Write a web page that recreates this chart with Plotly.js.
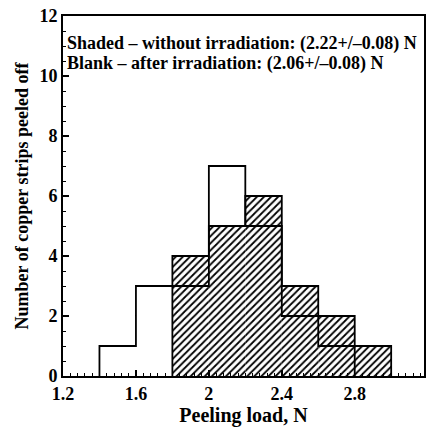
<!DOCTYPE html>
<html>
<head>
<meta charset="utf-8">
<script src="https://cdn.plot.ly/plotly-3.0.1.min.js"></script>
<style>html,body{margin:0;padding:0;background:#fff;font-family:'Liberation Serif',serif;}</style>
</head>
<body>
<div id="chart"></div>
<script>
// Bin edges of the peeling-load histogram (N)
const binEdges = [1.4, 1.6, 1.8, 2.0, 2.2, 2.4, 2.6, 2.8, 3.0];
// Shaded – without irradiation
const shadedCounts = [0, 0, 4, 5, 6, 3, 2, 1];
// Blank – after irradiation
const blankCounts = [1, 3, 3, 7, 5, 2, 1, 0];
const xTickVals = [1.2, 1.6, 2.0, 2.4, 2.8];
const xTickText = ['1.2', '1.6', '2', '2.4', '2.8'];
const yTickVals = [0, 2, 4, 6, 8, 10, 12];
const legendLines = [
  'Shaded \u2013 without irradiation: (2.22+/\u20130.08) N',
  'Blank \u2013 after irradiation: (2.06+/\u20130.08) N'
];

const centers = binEdges.slice(0, -1).map((e, i) => (e + binEdges[i + 1]) / 2);
const widths = binEdges.slice(0, -1).map((e, i) => binEdges[i + 1] - e);

function stepOutline(counts) {
  let a = counts.findIndex(c => c > 0);
  let b = counts.length - 1;
  while (b >= 0 && counts[b] === 0) b--;
  const xs = [binEdges[a]], ys = [0];
  for (let i = a; i <= b; i++) { xs.push(binEdges[i]); ys.push(counts[i]); }
  xs.push(binEdges[b + 1]); ys.push(0);
  return {x: xs, y: ys};
}

const FONT = 'Liberation Serif';
const sh = stepOutline(shadedCounts);
const bl = stepOutline(blankCounts);

const traces = [
  {
    type: 'bar', x: centers, y: shadedCounts, width: widths,
    marker: {color: 'white', line: {width: 0},
      pattern: {shape: '/', fgcolor: 'black', bgcolor: 'white', size: 5, solidity: 0.36, fillmode: 'replace'}},
    hoverinfo: 'skip', showlegend: false
  },
  {
    type: 'scatter', mode: 'lines', x: sh.x, y: sh.y,
    line: {shape: 'hv', color: 'black', width: 1.8}, showlegend: false, hoverinfo: 'skip'
  },
  {
    type: 'scatter', mode: 'lines', x: bl.x, y: bl.y,
    line: {shape: 'hv', color: 'black', width: 1.8}, showlegend: false, hoverinfo: 'skip'
  }
];

const tickF = {family: FONT, size: 18, weight: 'bold', color: 'black'};
const layout = {
  width: 428, height: 429,
  margin: {l: 63, r: 4, t: 16, b: 53},
  paper_bgcolor: 'white', plot_bgcolor: 'white',
  barmode: 'overlay',
  font: {family: FONT, color: 'black'},
  xaxis: {
    range: [1.2, 3.18], tickvals: xTickVals, ticktext: xTickText,
    ticks: 'inside', ticklen: 6, tickwidth: 1.5, tickcolor: 'black',
    minor: {dtick: 0.04, ticks: 'inside', ticklen: 3, tickwidth: 1, tickcolor: 'black'},
    showline: true, linecolor: 'black', linewidth: 2, mirror: true,
    showgrid: false, zeroline: false,
    tickfont: tickF,
    title: {text: 'Peeling load, N', font: {family: FONT, size: 20, weight: 'bold', color: 'black'}, standoff: 4}
  },
  yaxis: {
    range: [0, 12], tickvals: yTickVals,
    ticks: 'inside', ticklen: 6, tickwidth: 1.5, tickcolor: 'black',
    minor: {dtick: 0.5, ticks: 'inside', ticklen: 3, tickwidth: 1, tickcolor: 'black'},
    showline: true, linecolor: 'black', linewidth: 2, mirror: true,
    showgrid: false, zeroline: false,
    tickfont: tickF,
    title: {text: 'Number of copper strips peeled off', font: {family: FONT, size: 18, weight: 'bold', color: 'black'}, standoff: 6}
  },
  annotations: legendLines.map((t, i) => ({
    text: t, xref: 'paper', yref: 'paper', x: 0.005, y: 0.924 - i * 0.055,
    xanchor: 'left', yanchor: 'middle', showarrow: false,
    font: {family: FONT, size: 18, weight: 'bold', color: 'black'}
  }))
};

function draw() {
  Plotly.newPlot('chart', traces, layout, {displayModeBar: false, staticPlot: true});
}
if (document.fonts && document.fonts.load) {
  Promise.all([
    document.fonts.load('bold 18px "Liberation Serif"'),
    document.fonts.load('18px "Liberation Serif"')
  ]).then(draw, draw);
} else {
  draw();
}
</script>
</body>
</html>
